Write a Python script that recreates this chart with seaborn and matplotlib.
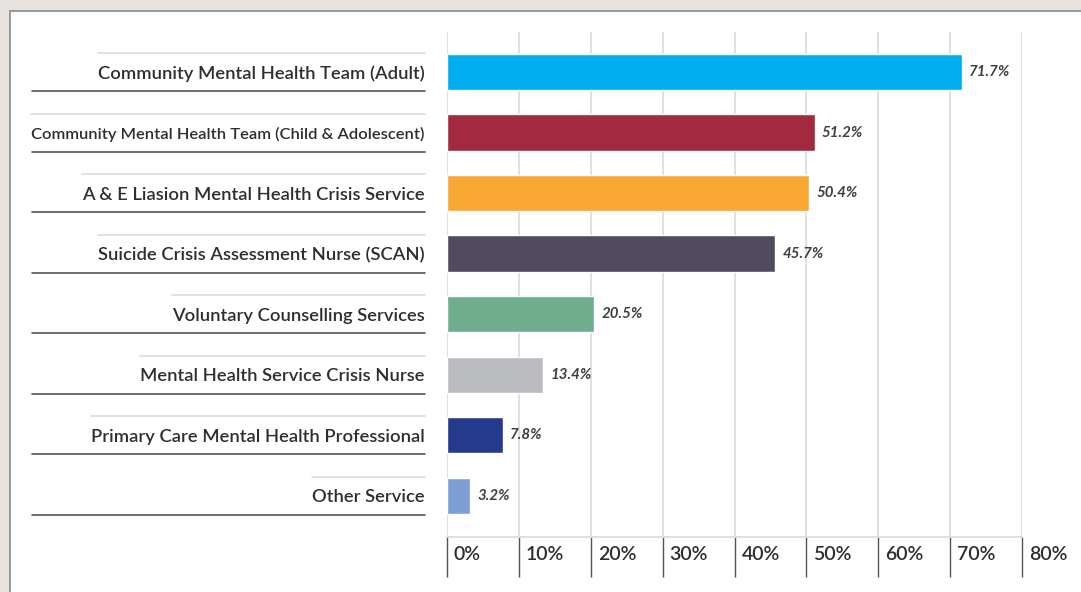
import matplotlib
matplotlib.use("Agg")
import matplotlib.pyplot as plt
import matplotlib.patches as mpatches
import matplotlib.transforms as mtransforms
import seaborn as sns

categories = [
    "Community Mental Health Team (Adult)",
    "Community Mental Health Team (Child & Adolescent)",
    "A & E Liasion Mental Health Crisis Service",
    "Suicide Crisis Assessment Nurse (SCAN)",
    "Voluntary Counselling Services",
    "Mental Health Service Crisis Nurse",
    "Primary Care Mental Health Professional",
    "Other Service",
]
values = [71.7, 51.2, 50.4, 45.7, 20.5, 13.4, 7.8, 3.2]
colors = ["#00AEEF", "#A3293F", "#F9A834", "#524A5E", "#6EAE8F", "#BBBCC0", "#253A8C", "#7F9ED4"]
xticks = [0, 10, 20, 30, 40, 50, 60, 70, 80]
xtick_labels = ["0%", "10%", "20%", "30%", "40%", "50%", "60%", "70%", "80%"]

sns.set_theme(style="white")
plt.rcParams["font.family"] = ["Lato", "DejaVu Sans"]

W, H = 1081, 592
fig = plt.figure(figsize=(W / 100, H / 100), dpi=100, facecolor="#e7e2dd")

# white panel
panel = mpatches.Rectangle((10 / W, -0.05), 1.1, 1 - 11 / H + 0.05, transform=fig.transFigure,
                           facecolor="white", edgecolor="#8a8a8a", linewidth=1.2, zorder=-5)
fig.patches.append(panel)

ax = fig.add_axes([447 / W, 1 - 537 / H, 575 / W, (537 - 32) / H])
ax.set_facecolor("none")
ax.set_zorder(2)

sns.barplot(x=values, y=categories, hue=categories, palette=colors, legend=False,
            orient="h", width=0.6, ax=ax, saturation=1, zorder=3)

for c in ax.containers:
    ax.bar_label(c, fmt="%.1f%%", padding=5, fontsize=10.8, fontstyle="italic",
                 fontweight="bold", color="#3f3f3f")

ax.set_xlim(0, 80)
ax.set_ylim(7.68, -0.66)
ax.set_xticks(xticks)
ax.set_xticklabels([])
ax.grid(axis="x", color="#dadada", linewidth=1.2, zorder=0)
ax.grid(axis="y", visible=False)
for s in ["top", "right", "left"]:
    ax.spines[s].set_visible(False)
ax.spines["bottom"].set_color("#dadada")
ax.spines["bottom"].set_linewidth(1.2)

ax.tick_params(axis="x", length=29, width=1.0, color="#555555", direction="out", bottom=True)
ax.tick_params(axis="y", length=0, pad=16)
ax.set_yticks(range(len(categories)))
ax.set_yticklabels(categories, fontsize=13.2, color="#2e2e2e", fontweight=600)
# the long label is condensed in the original
ax.get_yticklabels()[1].set_fontsize(11.85)
ax.set_xlabel("")
ax.set_ylabel("")

trans = mtransforms.blended_transform_factory(ax.transData, ax.transAxes)
for xv, lab in zip(xticks, xtick_labels):
    ax.text(xv, 0, lab, transform=trans + mtransforms.ScaledTranslation(7 / 100, -18 / 100, fig.dpi_scale_trans),
            ha="left", va="center", fontsize=14, color="#2e2e2e", fontweight=600, clip_on=False)

# separator lines around labels
fig.canvas.draw()
renderer = fig.canvas.get_renderer()
inv = fig.transFigure.inverted()
right_px = 425
for i, t in enumerate(ax.get_yticklabels()):
    bb = t.get_window_extent(renderer)
    yc_disp = ax.transData.transform((0, i))[1]
    top_y = yc_disp + 19
    bot_y = yc_disp - 19
    x0 = inv.transform((bb.x0, 0))[0]
    xr = inv.transform((right_px, 0))[0]
    yt = inv.transform((0, top_y))[1]
    yb = inv.transform((0, bot_y))[1]
    fig.add_artist(plt.Line2D([x0, xr], [yt, yt], transform=fig.transFigure, color="#dcdcdc", linewidth=1.2))
    fig.add_artist(plt.Line2D([32 / W, xr], [yb, yb], transform=fig.transFigure, color="#555555", linewidth=1.2))

fig.savefig("out.png", dpi=100, facecolor=fig.get_facecolor())
